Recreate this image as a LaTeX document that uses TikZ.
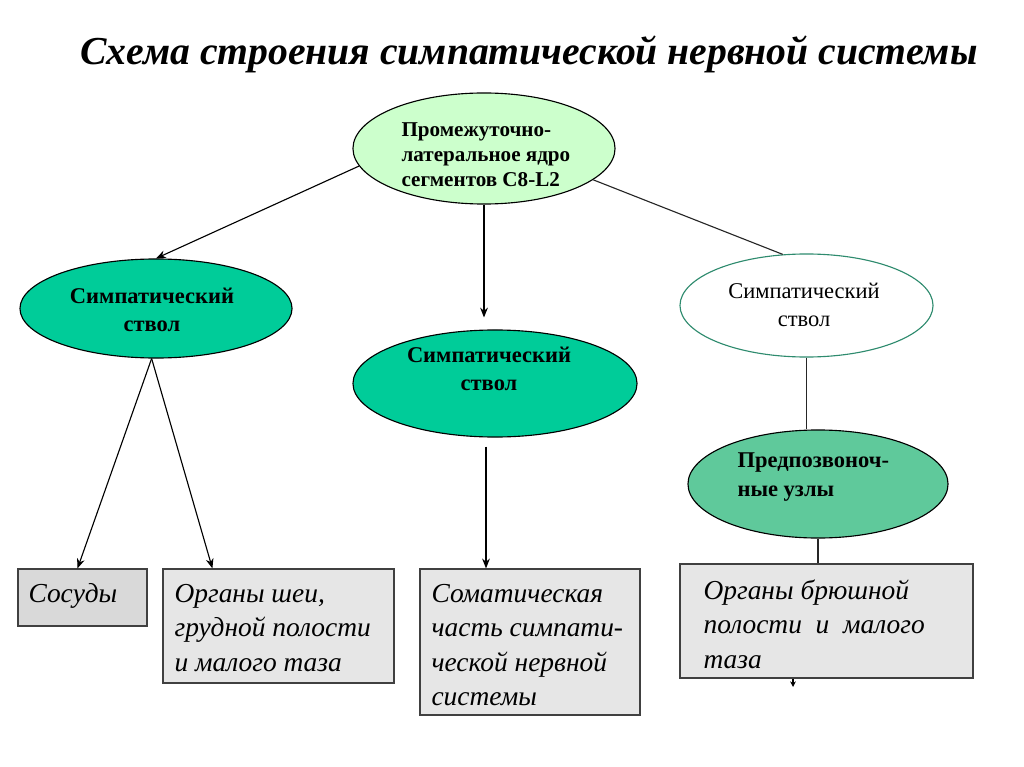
\documentclass[tikz,border=0pt]{standalone}
\usepackage{fontspec}
\setmainfont{Liberation Serif}
\usetikzlibrary{arrows.meta, shapes.geometric, calc}
\definecolor{cpale}{HTML}{CCFFCC}
\definecolor{cteal}{HTML}{00CC99}
\definecolor{cmint}{HTML}{5FC99B}
\definecolor{cedge}{HTML}{2E8B6E}
\definecolor{cbox}{HTML}{E6E6E6}
\definecolor{cboxdark}{HTML}{D9D9D9}
\tikzset{
  every picture/.style={line width=0.8pt},
  oval/.style={ellipse, draw=black, fill=#1, inner sep=0pt},
  oval/.default=cteal,
  ovaltext/.style={align=center, inner sep=0pt, font=\bfseries\fontsize{16}{20}\selectfont},
  organ/.style={draw=black!75, fill=#1, inner sep=0pt},
  organ/.default=cbox,
  organtext/.style={align=left, anchor=west, inner sep=0pt, font=\itshape\fontsize{19.5}{24.5}\selectfont},
  arrow/.style={-{Stealth[length=7pt, width=5.5pt]}, draw=black},
  link/.style={draw=black!85},
  title/.style={font=\bfseries\itshape\fontsize{28.2}{34}\selectfont},
}

\begin{document}
\begin{tikzpicture}[x=0.025cm, y=-0.025cm]
  \useasboundingbox (0,0) rectangle (1024,767);
  \node[title] (head) at (529,54) {Схема строения симпатической нервной системы};
  % ellipses
  \node[oval=cpale, minimum width=6.55cm, minimum height=2.775cm] (t) at (484,148.5) {};
  \node[ovaltext, align=left, anchor=west, font=\bfseries\fontsize{15}{17.8}\selectfont] (ttext) at (401,155)
    {Промежуточно-\\латеральное ядро\\сегментов C8-L2};
  \node[oval, minimum width=6.8cm, minimum height=2.475cm] (sl) at (156,308.5) {};
  \node[ovaltext] (sltext) at (152,310) {Симпатический\\ствол};
  \node[oval, minimum width=7.1cm, minimum height=2.675cm] (sm) at (495,383.5) {};
  \node[ovaltext] (smtext) at (489,369) {Симпатический\\ствол};
  \node[oval=white, draw=cedge, minimum width=6.325cm, minimum height=2.575cm] (sr) at (806.5,305.5) {};
  \node[ovaltext, font=\fontsize{16}{20}\selectfont] (srtext) at (804,305) {Симпатический\\ствол};
  \node[oval=cmint, minimum width=6.5cm, minimum height=2.7cm] (pv) at (818,484) {};
  \node[ovaltext, align=left, anchor=west] (pvtext) at (737,477) {Предпозвоноч-\\ные узлы};
  % boxes
  \node[organ=cboxdark, minimum width=3.225cm, minimum height=1.425cm] (vs) at (82.5,597.5) {};
  \node[organtext] (vstext) at (28,596) {Сосуды};
  \node[organ, minimum width=5.775cm, minimum height=2.85cm] (org) at (278.5,626) {};
  \node[organtext] (orgtext) at (174,628) {Органы шеи,\\грудной полости\\и малого таза};
  \node[organ, minimum width=5.5cm, minimum height=3.65cm] (som) at (530,642) {};
  \node[organtext] (somtext) at (431,645) {Соматическая\\часть симпати-\\ческой нервной\\системы};
  \node[organ, minimum width=7.325cm, minimum height=2.85cm] (abd) at (826.5,621) {};
  \node[organtext] (abdtext) at (703,624) {Органы брюшной\\полости\ \ и\ \ малого\\таза};
  % connectors
  \draw[arrow] (t.188) -- (sl.north);
  \draw[arrow, shorten >=8.5pt] (t.south) -- (t.south |- sm.north);
  \draw[link] (t.-16) -- (sr.115);
  \draw[arrow] (sl.265) -- ($(vs.north)+(-5,0)$);
  \draw[arrow] (sl.265) -- ($(org.north west)+(50,0)$);
  \draw[arrow] ($(sm.south)+(-9,9)$) -- ($(sm.south |- som.north)+(-9,0)$);
  \draw[link] (sr.south) -- (sr.south |- pv.north);
  \draw[link] (pv.south) -- (pv.south |- abd.north);
  \coordinate (stub) at (793,687);
  \draw[-{Stealth[length=4pt, width=4pt]}] (abd.south -| stub) -- (stub);
\end{tikzpicture}
\end{document}
